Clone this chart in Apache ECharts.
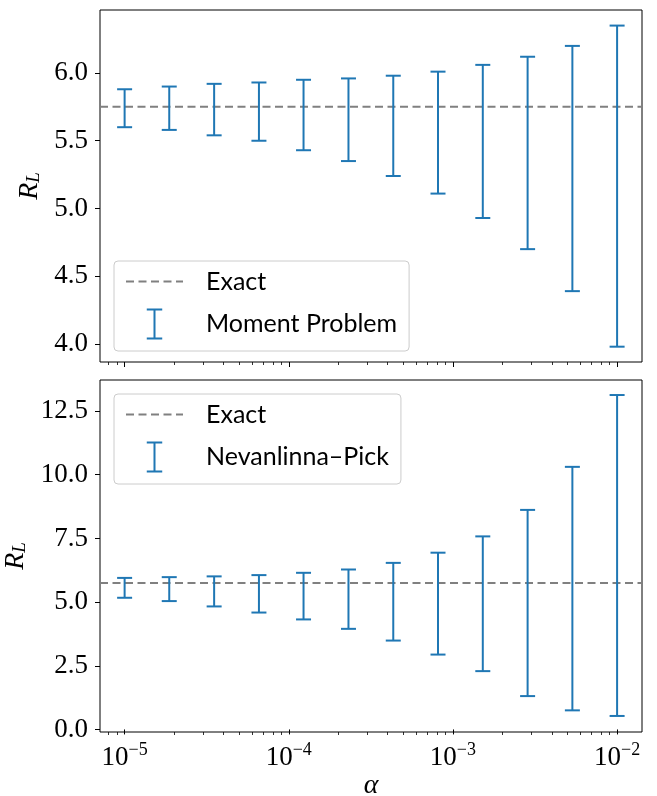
<!DOCTYPE html>
<html>
<head>
<meta charset="utf-8">
<title>R_L vs alpha</title>
<script src="https://cdn.jsdelivr.net/npm/echarts@6/dist/echarts.min.js"></script>
<style>
  html, body { margin: 0; padding: 0; background: #fff; }
  #chart { width: 657px; height: 796px; }
</style>
</head>
<body>
<div id="chart"></div>
<script>
// regularisation strengths (x)
const alphaValues = [1.0e-5, 1.87e-5, 3.51e-5, 6.58e-5, 1.23e-4, 2.31e-4, 4.33e-4, 8.11e-4, 1.52e-3, 2.85e-3, 5.34e-3, 1.0e-2]

// top panel: moment problem bounds
const momentLow = [5.60, 5.58, 5.54, 5.50, 5.43, 5.35, 5.24, 5.11, 4.93, 4.70, 4.39, 3.98]
const momentHigh = [5.88, 5.90, 5.92, 5.93, 5.95, 5.96, 5.98, 6.01, 6.06, 6.12, 6.20, 6.35]

// bottom panel: Nevanlinna-Pick bounds
const nevLow = [5.17, 5.04, 4.83, 4.59, 4.32, 3.95, 3.49, 2.94, 2.29, 1.31, 0.75, 0.53]
const nevHigh = [5.95, 5.98, 6.01, 6.06, 6.15, 6.28, 6.54, 6.94, 7.58, 8.62, 10.31, 13.13]

const exactValue = 5.75

// axes
const xRange = [7.08e-6, 1.418e-2]
const topRange = [3.867, 6.465]
const bottomRange = [-0.1, 13.72]
const xMajorTicks = [1e-5, 1e-4, 1e-3, 1e-2]
const xMinorTicks = [8e-6, 9e-6,
  2e-5, 3e-5, 4e-5, 5e-5, 6e-5, 7e-5, 8e-5, 9e-5,
  2e-4, 3e-4, 4e-4, 5e-4, 6e-4, 7e-4, 8e-4, 9e-4,
  2e-3, 3e-3, 4e-3, 5e-3, 6e-3, 7e-3, 8e-3, 9e-3]
const topTicks = [4.0, 4.5, 5.0, 5.5, 6.0]
const bottomTicks = [0.0, 2.5, 5.0, 7.5, 10.0, 12.5]

const BLUE = '#1f77b4'
const GRAY = '#808080'
const SERIF = '"Liberation Serif", "DejaVu Serif", serif'
const SANS = 'Lato, "Noto Sans", sans-serif'

const chart = echarts.init(document.getElementById('chart'), null, { renderer: 'canvas' })

const toBars = (lo, hi) => alphaValues.map((a, i) => [a, lo[i], hi[i]])

const renderErrorBar = (params, api) => {
  const x = api.value(0)
  const lo = api.coord([x, api.value(1)])
  const hi = api.coord([x, api.value(2)])
  const half = 7.5
  const style = { stroke: BLUE, lineWidth: 2, fill: null }
  return {
    type: 'group',
    children: [
      { type: 'line', shape: { x1: lo[0], y1: hi[1], x2: lo[0], y2: lo[1] }, style },
      { type: 'line', shape: { x1: lo[0] - half, y1: hi[1], x2: lo[0] + half, y2: hi[1] }, style },
      { type: 'line', shape: { x1: lo[0] - half, y1: lo[1], x2: lo[0] + half, y2: lo[1] }, style }
    ]
  }
}

const expLabel = (v) => {
  const e = Math.round(Math.log10(v))
  return '{b|10}{s|' + (e < 0 ? '\u2212' + (-e) : e) + '}'
}

const xAxisBase = (gridIndex) => ({
  type: 'log',
  logBase: 10,
  gridIndex,
  position: 'bottom',
  min: xRange[0],
  max: xRange[1],
  axisLine: { show: false },
  splitLine: { show: false },
  minorTick: { show: false },
  minorSplitLine: { show: false }
})

const majorX = (gridIndex, showLabels) => ({
  ...xAxisBase(gridIndex),
  axisTick: { show: true, length: 5, customValues: xMajorTicks, lineStyle: { color: '#000', width: 1 } },
  axisLabel: {
    show: showLabels,
    customValues: xMajorTicks,
    margin: 9,
    formatter: expLabel,
    rich: {
      b: { fontFamily: SERIF, fontSize: 27, color: '#000', verticalAlign: 'bottom', lineHeight: 30 },
      s: { fontFamily: SERIF, fontSize: 18, color: '#000', verticalAlign: 'top', lineHeight: 30 }
    }
  },
  name: showLabels ? '{a|\u03b1}' : '',
  nameLocation: 'middle',
  nameGap: 39,
  nameTextStyle: { rich: { a: { fontFamily: SERIF, fontStyle: 'italic', fontSize: 28, color: '#000' } } }
})

const minorX = (gridIndex) => ({
  ...xAxisBase(gridIndex),
  axisTick: { show: true, length: 3, customValues: xMinorTicks, lineStyle: { color: '#000', width: 0.8 } },
  axisLabel: { show: false }
})

const yAxisOf = (gridIndex, range, ticks, gap) => ({
  type: 'value',
  gridIndex,
  min: range[0],
  max: range[1],
  axisLine: { show: false },
  splitLine: { show: false },
  axisTick: { show: true, length: 5, customValues: ticks, lineStyle: { color: '#000', width: 1 } },
  axisLabel: {
    customValues: ticks,
    margin: 12,
    fontFamily: SERIF,
    fontSize: 27,
    color: '#000',
    formatter: (v) => v.toFixed(1)
  },
  name: '{i|R}{s|L}',
  nameLocation: 'middle',
  nameRotate: 90,
  nameGap: gap,
  nameTextStyle: {
    rich: {
      i: { fontFamily: SERIF, fontStyle: 'italic', fontSize: 28, color: '#000', verticalAlign: 'bottom', lineHeight: 30 },
      s: { fontFamily: SERIF, fontStyle: 'italic', fontSize: 19, color: '#000', verticalAlign: 'bottom', lineHeight: 24 }
    }
  }
})

const legendOf = (top, names) => ({
  orient: 'vertical',
  left: 114,
  top,
  padding: [6, 12, 10, 11],
  itemWidth: 57,
  itemHeight: 29,
  itemGap: 11,
  backgroundColor: 'rgba(255,255,255,0.8)',
  borderColor: '#cccccc',
  borderWidth: 1,
  borderRadius: 4,
  selectedMode: false,
  textStyle: { fontFamily: SANS, fontSize: 25, color: '#000', padding: [0, 0, 0, 18], lineHeight: 29 },
  data: [
    { name: names[0], itemStyle: { opacity: 0 } },
    {
      name: names[1],
      icon: 'path://M0,0L16,0M8,0L8,30M0,30L16,30',
      itemStyle: { color: 'none', borderColor: BLUE, borderWidth: 2 }
    }
  ]
})

const exactLine = (name, idx) => ({
  name,
  type: 'line',
  xAxisIndex: idx,
  yAxisIndex: idx,
  symbol: 'none',
  symbolSize: 0,
  silent: true,
  z: 2,
  lineStyle: { color: GRAY, width: 2, type: [8, 4.5] },
  itemStyle: { color: GRAY },
  data: [[xRange[0], exactValue], [xRange[1], exactValue]]
})

const errorBars = (name, idx, lo, hi) => ({
  name,
  type: 'custom',
  xAxisIndex: idx,
  yAxisIndex: idx,
  z: 5,
  silent: true,
  clip: false,
  itemStyle: { color: BLUE },
  renderItem: renderErrorBar,
  encode: { x: 0, y: [1, 2] },
  data: toBars(lo, hi)
})

const gridBase = { left: 100, right: 15, height: 352, show: true, borderColor: '#000', borderWidth: 1, backgroundColor: 'transparent', outerBoundsMode: 'none', containLabel: false }

const option = {
  backgroundColor: '#fff',
  animation: false,
  legend: [
    legendOf(261, ['Exact', 'Moment Problem']),
    legendOf(394, ['Exact ', 'Nevanlinna\u2013Pick'])
  ],
  grid: [
    { ...gridBase, top: 10 },
    { ...gridBase, top: 380 }
  ],
  xAxis: [majorX(0, false), majorX(1, true), minorX(0), minorX(1)],
  yAxis: [
    yAxisOf(0, topRange, topTicks, 46),
    yAxisOf(1, bottomRange, bottomTicks, 62)
  ],
  series: [
    exactLine('Exact', 0),
    errorBars('Moment Problem', 0, momentLow, momentHigh),
    exactLine('Exact ', 1),
    errorBars('Nevanlinna\u2013Pick', 1, nevLow, nevHigh)
  ]
}

chart.setOption(option)
</script>
</body>
</html>
